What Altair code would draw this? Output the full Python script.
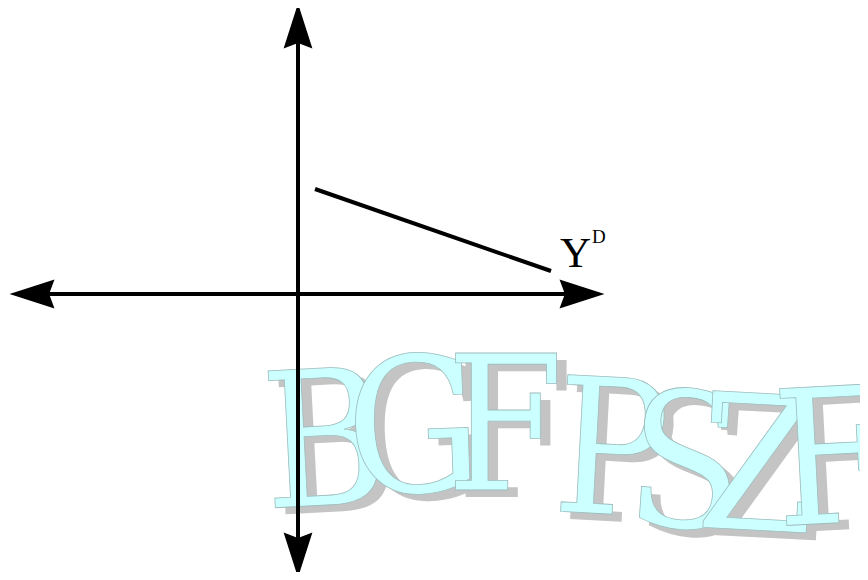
import altair as alt
import pandas as pd

# Diagram coordinates: origin where the two axes cross, y up
axis_h_x = [-282, 300]
axis_h_y = [0, 0]
axis_v_x = [0, 0]
axis_v_y = [285, -278]

arrow_x = [0, 284, 0, -266]
arrow_y = [268, 0, -261, 0]
arrow_dir = [0, 90, 180, 270]

demand_x = [17, 253]
demand_y = [105, 23]

label_main = "Y"
label_sup = "D"

wm_letters = ["B", "G", "F", "P", "S", "Z", "F"]
wm_x = [30, 118, 207, 310, 383, 456, 538]
wm_y = [-211, -198, -196, -220, -233, -236, -229]
wm_angle = [-3, -2, 0, 3, 4, 3, -3]

X_DOM = [-290, 562]
Y_DOM = [-278, 286]
xs = alt.Scale(domain=X_DOM, nice=False, zero=False)
ys = alt.Scale(domain=Y_DOM, nice=False, zero=False)

wm = pd.DataFrame({"t": wm_letters, "x": wm_x, "y": wm_y, "a": wm_angle})
base_wm = alt.Chart(wm).encode(
    x=alt.X("x:Q", scale=xs, axis=None),
    y=alt.Y("y:Q", scale=ys, axis=None),
    text="t:N",
    angle=alt.Angle("a:Q", scale=None),
)
WM_FONT = "DejaVu Serif Condensed, Liberation Serif, serif"
WM_SIZE = 188
wm_shadow = base_wm.mark_text(
    font=WM_FONT, fontSize=WM_SIZE, align="center", baseline="alphabetic",
    color="#c4c4c4", dx=10, dy=7,
)
wm_fill = base_wm.mark_text(
    font=WM_FONT, fontSize=WM_SIZE, align="center", baseline="alphabetic",
    fill="#ccffff", stroke="#9fbcbc", strokeWidth=0.8,
)

h_axis = alt.Chart(pd.DataFrame({"x": axis_h_x, "y": axis_h_y})).mark_line(
    color="black", strokeWidth=4
).encode(x=alt.X("x:Q", scale=xs, axis=None), y=alt.Y("y:Q", scale=ys, axis=None))

v_axis = alt.Chart(pd.DataFrame({"x": axis_v_x, "y": axis_v_y, "o": [0, 1]})).mark_line(
    color="black", strokeWidth=4
).encode(x=alt.X("x:Q", scale=xs, axis=None), y=alt.Y("y:Q", scale=ys, axis=None),
         order="o:Q")

ARROW = "M0,-1 L0.64,1 L0,0.76 L-0.64,1 Z"
arrows = alt.Chart(pd.DataFrame({"x": arrow_x, "y": arrow_y, "a": arrow_dir})).mark_point(
    shape=ARROW, size=2025, filled=True, color="black", opacity=1, strokeWidth=0
).encode(
    x=alt.X("x:Q", scale=xs, axis=None),
    y=alt.Y("y:Q", scale=ys, axis=None),
    angle=alt.Angle("a:Q", scale=None),
)

demand = alt.Chart(pd.DataFrame({"x": demand_x, "y": demand_y})).mark_line(
    color="black", strokeWidth=4
).encode(x=alt.X("x:Q", scale=xs, axis=None), y=alt.Y("y:Q", scale=ys, axis=None))

lbl = alt.Chart(pd.DataFrame({"x": [262], "y": [27], "t": [label_main]})).mark_text(
    font="Liberation Serif", fontSize=43, align="left", baseline="alphabetic", color="black"
).encode(x=alt.X("x:Q", scale=xs, axis=None), y=alt.Y("y:Q", scale=ys, axis=None), text="t:N")

sup = alt.Chart(pd.DataFrame({"x": [294], "y": [51], "t": [label_sup]})).mark_text(
    font="Liberation Serif", fontSize=19, align="left", baseline="alphabetic", color="black"
).encode(x=alt.X("x:Q", scale=xs, axis=None), y=alt.Y("y:Q", scale=ys, axis=None), text="t:N")

chart = alt.layer(
    wm_shadow, wm_fill, h_axis, v_axis, arrows, demand, lbl, sup
).properties(
    width=852, height=564, padding=0,
    autosize=alt.AutoSizeParams(type="none"),
).configure_view(stroke=None)

chart.save("out.html", embed_options={"renderer": "svg", "actions": False})
